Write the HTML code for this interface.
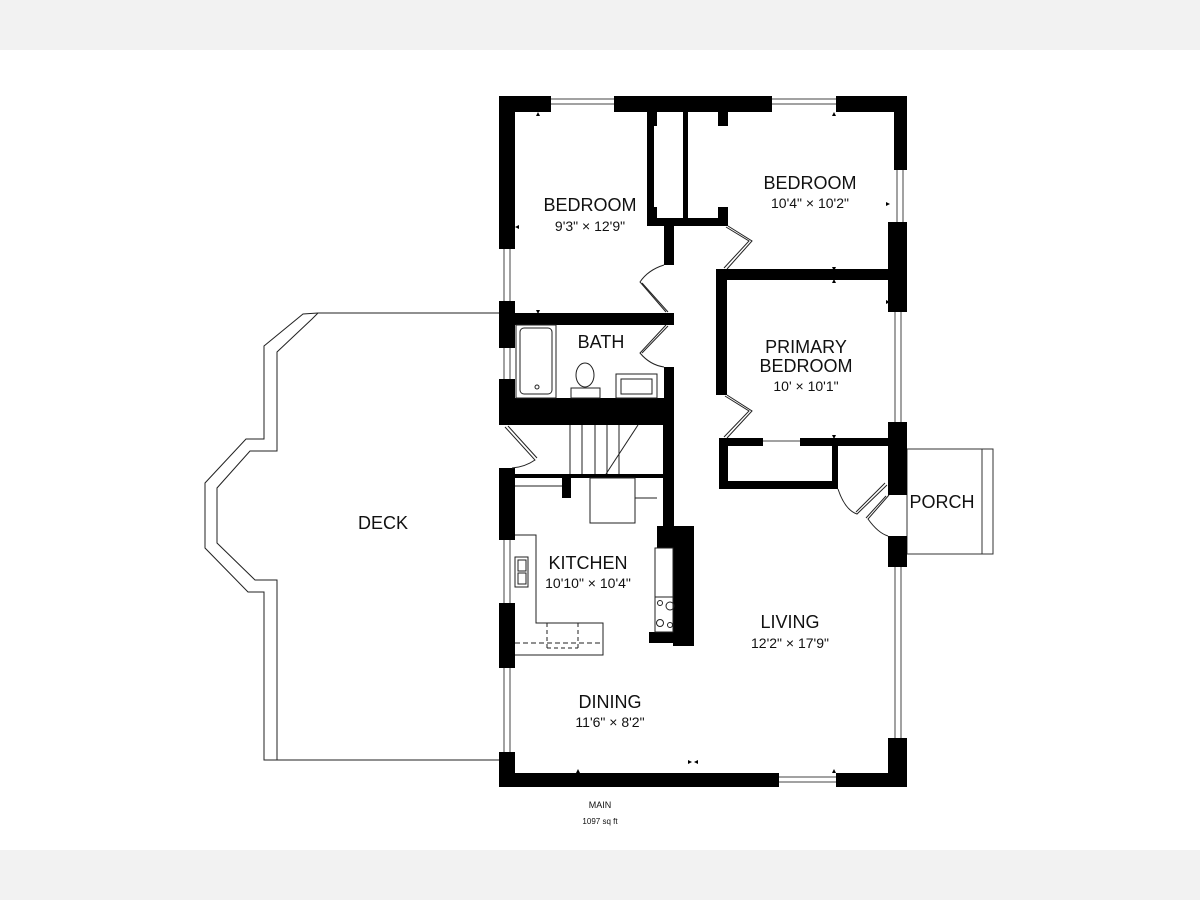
<!DOCTYPE html>
<html><head><meta charset="utf-8"><style>
html,body{margin:0;padding:0;background:#fff;}
svg{display:block;}
text{font-family:"Liberation Sans","DejaVu Sans",sans-serif;fill:#111;text-anchor:middle;}
.n{font-size:18px;}
.d{font-size:14px;}
</style></head><body>
<svg width="1200" height="900" viewBox="0 0 1200 900" xmlns="http://www.w3.org/2000/svg">
<rect x="0" y="0" width="1200" height="50" fill="#f2f2f2"/>
<rect x="0" y="850" width="1200" height="50" fill="#f2f2f2"/>

<g fill="none" stroke="#222" stroke-width="1">
<polyline points="500,313 318,313 303,314 264,346 264,439 246,439 205,483 205,548 248,592 264,592 264,760 500,760"/>
<polyline points="318,313 312,319 277,352 277,451 250,451 217,488 217,543 255,580 277,580 277,760"/>
</g>

<g fill="none" stroke="#333" stroke-width="1">
<rect x="907" y="449" width="86" height="105"/>
<line x1="982" y1="449" x2="982" y2="554"/>
</g>

<g stroke="#444" stroke-width="1" fill="none">
<line x1="551" y1="99" x2="614" y2="99"/><line x1="551" y1="104" x2="614" y2="104"/>
<line x1="772" y1="99" x2="836" y2="99"/><line x1="772" y1="104" x2="836" y2="104"/>
<line x1="504" y1="249" x2="504" y2="301"/><line x1="510" y1="249" x2="510" y2="301"/>
<line x1="504" y1="348" x2="504" y2="379"/><line x1="510" y1="348" x2="510" y2="379"/>
<line x1="897" y1="170" x2="897" y2="222"/><line x1="903" y1="170" x2="903" y2="222"/>
<line x1="895" y1="312" x2="895" y2="422"/><line x1="901" y1="312" x2="901" y2="422"/>
<line x1="895" y1="567" x2="895" y2="738"/><line x1="901" y1="567" x2="901" y2="738"/>
<line x1="504" y1="540" x2="504" y2="603"/><line x1="510" y1="540" x2="510" y2="603"/>
<line x1="504" y1="668" x2="504" y2="752"/><line x1="510" y1="668" x2="510" y2="752"/>
<line x1="779" y1="777" x2="836" y2="777"/><line x1="779" y1="782" x2="836" y2="782"/>
<line x1="763" y1="441" x2="800" y2="441"/>
</g>

<g fill="#000">
<rect x="499" y="96" width="52" height="16"/>
<rect x="614" y="96" width="158" height="16"/>
<rect x="836" y="96" width="71" height="16"/>
<rect x="894" y="96" width="13" height="74"/>
<rect x="888" y="222" width="19" height="90"/>
<rect x="888" y="422" width="19" height="73"/>
<rect x="888" y="536" width="19" height="31"/>
<rect x="888" y="738" width="19" height="49"/>
<rect x="499" y="773" width="280" height="14"/>
<rect x="836" y="773" width="71" height="14"/>
<rect x="499" y="96" width="16" height="153"/>
<rect x="499" y="301" width="16" height="47"/>
<rect x="499" y="379" width="16" height="46"/>
<rect x="499" y="468" width="16" height="72"/>
<rect x="499" y="603" width="16" height="65"/>
<rect x="499" y="752" width="16" height="35"/>
<rect x="647" y="112" width="7" height="113"/>
<rect x="647" y="112" width="10" height="14"/>
<rect x="647" y="207" width="10" height="19"/>
<rect x="683" y="112" width="5" height="113"/>
<rect x="718" y="112" width="10" height="14"/>
<rect x="718" y="207" width="10" height="19"/>
<rect x="647" y="218" width="81" height="8"/>
<rect x="664" y="222" width="10" height="43"/>
<rect x="515" y="313" width="159" height="12"/>
<rect x="664" y="367" width="10" height="58"/>
<rect x="499" y="398" width="175" height="27"/>
<rect x="663" y="425" width="11" height="103"/>
<rect x="657" y="526" width="37" height="22"/>
<rect x="673" y="526" width="21" height="120"/>
<rect x="649" y="632" width="45" height="11"/>
<rect x="515" y="474" width="148" height="4"/>
<rect x="562" y="474" width="9" height="24"/>
<rect x="716" y="269" width="191" height="11"/>
<rect x="716" y="269" width="11" height="126"/>
<rect x="719" y="438" width="44" height="8"/>
<rect x="800" y="438" width="88" height="8"/>
<rect x="719" y="438" width="9" height="51"/>
<rect x="719" y="481" width="119" height="8"/>
<rect x="832" y="438" width="6" height="51"/>
</g>

<g fill="none" stroke="#222" stroke-width="1">
<rect x="516" y="325" width="40" height="73"/>
<rect x="520" y="328" width="32" height="66" rx="4"/>
<circle cx="537" cy="387" r="2"/>
<rect x="571" y="388" width="29" height="10"/>
<ellipse cx="585" cy="375" rx="9" ry="12"/>
<rect x="616" y="374" width="41" height="24"/>
<rect x="621" y="379" width="31" height="15"/>
<line x1="570" y1="425" x2="570" y2="474"/>
<line x1="582" y1="425" x2="582" y2="474"/>
<line x1="595" y1="425" x2="595" y2="474"/>
<line x1="607" y1="425" x2="607" y2="474"/>
<line x1="619" y1="425" x2="619" y2="474"/>
<line x1="638" y1="425" x2="606" y2="474"/>
<rect x="590" y="478" width="45" height="45"/>
<line x1="635" y1="498" x2="657" y2="498"/>
<line x1="515" y1="486" x2="562" y2="486"/>
<polyline points="515,535 536,535 536,623 603,623 603,655 515,655"/>
<line x1="515" y1="643" x2="603" y2="643" stroke-dasharray="5,3"/>
<line x1="547" y1="623" x2="547" y2="648" stroke-dasharray="4,3"/>
<line x1="578" y1="623" x2="578" y2="648" stroke-dasharray="4,3"/>
<line x1="547" y1="648" x2="578" y2="648" stroke-dasharray="4,3"/>
<rect x="515" y="557" width="13" height="30"/>
<rect x="518" y="560" width="8" height="11"/>
<rect x="518" y="573" width="8" height="11"/>
<rect x="655" y="548" width="18" height="84"/>
<line x1="655" y1="597" x2="673" y2="597"/>
<circle cx="660" cy="603" r="2.5"/><circle cx="670" cy="606" r="4"/>
<circle cx="660" cy="623" r="3.5"/><circle cx="670" cy="625" r="2.5"/>
</g>

<g fill="none" stroke="#222" stroke-width="1">
<path d="M728,226 L752,241 L727,269"/><path d="M726,227 L749,241 L724,268"/>
<path d="M664,265 Q648,270 640,282 L666,312"/><path d="M642,283 L668,312"/>
<path d="M666,325 L640,353 Q650,365 664,367"/><path d="M668,326 L642,353"/>
<path d="M727,395 L752,411 L727,438"/><path d="M725,396 L749,411 L724,437"/>
<path d="M505,427 L535,460 Q525,467 512,468"/><path d="M508,426 L537,458"/>
<path d="M838,489 Q845,510 857,514 L887,485"/><path d="M856,512 L885,483"/>
<path d="M889,495 L868,519 Q878,533 888,536"/><path d="M886,496 L866,518"/>
</g>

<g fill="#000">
<path d="M536,116 l2,-4 l2,4z"/><path d="M832,116 l2,-4 l2,4z"/>
<path d="M519,229 l-4,-2 l4,-2z"/><path d="M661,219 l4,2 l-4,2z"/>
<path d="M536,310 l2,4 l2,-4z"/><path d="M832,267 l2,4 l2,-4z"/>
<path d="M832,283 l2,-4 l2,4z"/><path d="M886,300 l4,2 l-4,2z"/>
<path d="M886,202 l4,2 l-4,2z"/><path d="M832,435 l2,4 l2,-4z"/>
<path d="M576,773 l2,-4 l2,4z"/><path d="M832,773 l2,-4 l2,4z"/>
<path d="M688,760 l4,2 l-4,2z M698,760 l-4,2 l4,2z"/>
</g>

<text class="n" x="590" y="211">BEDROOM</text>
<text class="d" x="590" y="231">9'3" × 12'9"</text>
<text class="n" x="810" y="189">BEDROOM</text>
<text class="d" x="810" y="208">10'4" × 10'2"</text>
<text class="n" x="601" y="348">BATH</text>
<text class="n" x="806" y="353">PRIMARY</text>
<text class="n" x="806" y="372">BEDROOM</text>
<text class="d" x="806" y="391">10' × 10'1"</text>
<text class="n" x="383" y="529">DECK</text>
<text class="n" x="942" y="508">PORCH</text>
<text class="n" x="588" y="569">KITCHEN</text>
<text class="d" x="588" y="588">10'10" × 10'4"</text>
<text class="n" x="790" y="628">LIVING</text>
<text class="d" x="790" y="648">12'2" × 17'9"</text>
<text class="n" x="610" y="708">DINING</text>
<text class="d" x="610" y="727">11'6" × 8'2"</text>
<text x="600" y="808" style="font-size:9px">MAIN</text>
<text x="600" y="824" style="font-size:8px">1097 sq ft</text>
</svg>
</body></html>
